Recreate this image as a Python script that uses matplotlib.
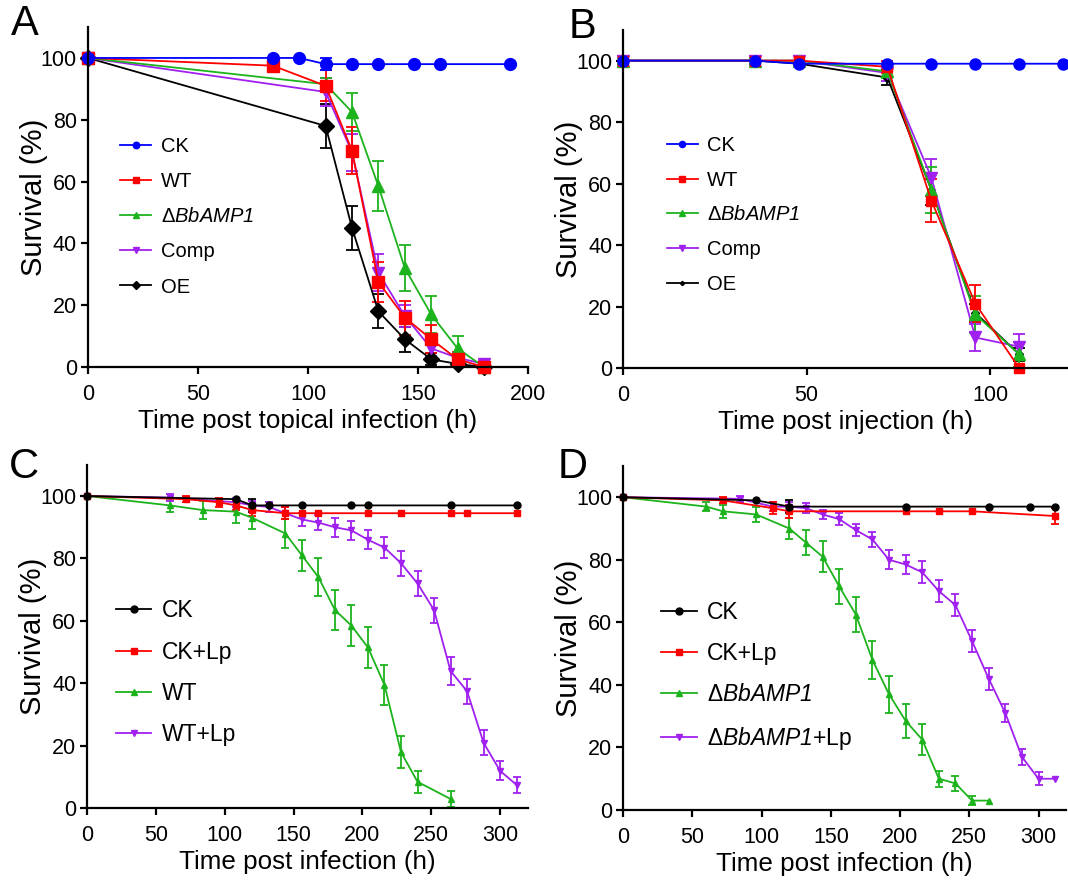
import numpy as np
import matplotlib
matplotlib.use("Agg")
import matplotlib.pyplot as plt

plt.rcParams["font.family"] = ["Liberation Sans", "DejaVu Sans"]
plt.rcParams["mathtext.fontset"] = "custom"
# everything inside $...$ is italic (gene name incl. digits)
plt.rcParams["mathtext.rm"] = "Liberation Sans:italic"
plt.rcParams["mathtext.it"] = "Liberation Sans:italic"

BLUE, RED, GREEN, PURPLE, BLACK = "#0000FF", "#FF0000", "#1DB31D", "#A020F0", "#000000"
DELTA = "Δ$BbAMP1$"

# ---- panel A: topical infection
a_ck_t = [0, 84, 96, 108, 120, 132, 148, 160, 192]
a_ck = [100, 100, 100, 98, 98, 98, 98, 98, 98]
a_ck_err = [0, 0, 0, 2, 0, 0, 0, 0, 0]
a_t = [0, 84, 108, 120, 132, 144, 156, 168, 180]
a_wt = [100, 97.5, 91, 70, 27.5, 16, 9, 2.5, 0]
a_wt_err = [0, 1.5, 5, 7.5, 6.5, 5.5, 4.5, 2.5, 0]
a_t2 = [0, 108, 120, 132, 144, 156, 168, 180]
a_del = [100, 91.5, 82.5, 58.5, 32, 17, 6, 0]
a_del_err = [1.5, 2, 6, 8, 7.5, 6, 4, 0]
a_comp = [100, 89, 69.5, 30.5, 16.5, 6, 3, 1]
a_comp_err = [1.5, 4.5, 6, 6, 3.5, 2.5, 1.5, 1]
a_oe = [100, 78, 45, 18, 9, 2.5, 1, 0]
a_oe_err = [0, 7, 7, 5.5, 4, 2, 0, 0]

# ---- panel B: injection
b_ck_t = [0, 36, 48, 72, 84, 96, 108, 120]
b_ck = [100, 100, 99, 99, 99, 99, 99, 99]
b_t = [0, 36, 48, 72, 84, 96, 108]
b_wt = [100, 100, 100, 98, 54.5, 21, 0]
b_wt_err = [0, 0, 0, 2, 7, 6, 0]
b_del = [100, 100, 100, 96.5, 58, 17.5, 4.5]
b_del_err = [1, 1, 0, 2, 7.5, 6, 4]
b_comp = [100, 100, 100, 96, 62, 10, 7]
b_comp_err = [1.5, 1.5, 1.5, 2.5, 6, 4.5, 4]
b_oe = [100, 100, 99, 94.5, 58, 18, 4.5]
b_oe_err = [0, 0, 0, 2.5, 5, 3, 2]

# ---- panel C: WT with / without Lp
c_ck_t = [0, 108, 120, 132, 156, 192, 204, 264, 312]
c_ck = [100, 99, 97, 97, 97, 97, 97, 97, 97]
c_ck_err = [0, 0, 2, 0, 0, 0, 0, 0, 0]
c_cklp_t = [0, 72, 96, 108, 120, 144, 156, 168, 204, 228, 264, 276, 312]
c_cklp = [100, 99, 98, 97, 95.5, 94.5, 94.5, 94.5, 94.5, 94.5, 94.5, 94.5, 94.5]
c_cklp_err = [0, 1, 1.5, 1.5, 2, 2, 0, 0, 0, 0, 0, 0, 0]
c_wt_t = [0, 60, 84, 108, 120, 144, 156, 168, 180, 192, 204, 216, 228, 240, 264]
c_wt = [100, 97, 95.5, 95, 93, 88, 81, 74, 63.5, 58.5, 51.5, 39.5, 18, 8.5, 3]
c_wt_err = [0, 2, 3, 3.5, 3.5, 4.5, 5, 6, 6.5, 6.5, 6.5, 6.5, 5, 3.5, 2.5]
c_wtlp_t = [0, 60, 108, 120, 132, 144, 156, 168, 180, 192, 204, 216, 228,
            240, 252, 264, 276, 288, 300, 312]
c_wtlp = [100, 99.5, 98, 97, 96.5, 94.5, 92.5, 91.5, 90, 89, 86, 83.5, 78.5,
          72, 63.5, 44, 37.5, 21, 12, 7.5]
c_wtlp_err = [0, 1, 1.5, 1.5, 1.5, 2, 2, 2.5, 3, 3, 3, 3.5, 4,
              4, 4, 4.5, 4, 4, 3, 2.5]

# ---- panel D: deletion mutant with / without Lp
d_ck_t = [0, 96, 120, 204, 264, 294, 312]
d_ck = [100, 99, 97, 97, 97, 97, 97]
d_ck_err = [0, 0, 2, 0, 0, 0, 0]
d_cklp_t = [0, 72, 108, 120, 204, 228, 252, 312]
d_cklp = [100, 99, 96.5, 95.5, 95.5, 95.5, 95.5, 94]
d_cklp_err = [0, 1, 2, 2, 0, 0, 0, 2.5]
d_del_t = [0, 60, 72, 96, 120, 132, 144, 156, 168, 180, 192, 204, 216, 228, 240, 252, 264]
d_del = [100, 97, 95.5, 94.5, 90, 85.5, 81, 71.5, 62.5, 48, 37, 28.5, 22.5, 10, 8.5, 3, 3]
d_del_err = [0, 1.5, 2, 2.5, 3.5, 4, 5, 5.5, 5.5, 6, 6, 5.5, 5, 2.5, 2.5, 1.5, 0]
d_dellp_t = [0, 84, 108, 120, 132, 144, 156, 168, 180, 192, 204, 216, 228,
             240, 252, 264, 276, 288, 300, 312]
d_dellp = [100, 99.5, 97, 97, 96.5, 94.5, 93, 89.5, 86.5, 80, 78.5, 76, 70,
           65.5, 54, 42, 31, 17, 10, 10]
d_dellp_err = [0, 1, 1.5, 1.5, 1.5, 1.5, 2, 2, 2.5, 3, 3, 3.5, 3.5,
               3.5, 3.5, 3.5, 3, 2.5, 2, 0]


def series(ax, t, y, err, color, marker, ms, cap, label):
    err = np.asarray(err, dtype=float)
    err = np.where(err > 0, err, np.nan)
    ax.errorbar(t, y, yerr=err, color=color, marker=marker, ms=ms, lw=1.3,
                elinewidth=1.3, capsize=cap, capthick=1.3, label=label,
                clip_on=False)


def style(ax, xmax, xstep, xlabel, letter, lx, ly):
    ax.set_xlim(0, xmax)
    ax.set_ylim(0, 110)
    ax.set_xticks(np.arange(0, xmax + 1, xstep))
    ax.set_yticks(range(0, 101, 20))
    for s in ["top", "right"]:
        ax.spines[s].set_visible(False)
    for s in ["left", "bottom"]:
        ax.spines[s].set_linewidth(1.6)
    ax.tick_params(direction="out", length=5, width=1.6, labelsize=15.5)
    ax.tick_params(axis="x", pad=7)
    ax.tick_params(axis="y", pad=3)
    ax.set_xlabel(xlabel, fontsize=18.7, labelpad=3)
    ax.set_ylabel("Survival (%)", fontsize=21, labelpad=-5)
    fig.text(lx, 1 - ly / 881, letter, fontsize=30, va="top", ha="left")


fig = plt.figure(figsize=(10.68, 8.81), dpi=100)
axA = fig.add_axes([0.0824, 0.5834, 0.4120, 0.3859])
axB = fig.add_axes([0.5836, 0.5820, 0.4155, 0.3841])
axC = fig.add_axes([0.0817, 0.0825, 0.4123, 0.3899])
axD = fig.add_axes([0.5836, 0.0806, 0.4147, 0.3905])

# A
series(axA, a_t2, a_oe, a_oe_err, BLACK, "D", 8, 4.5, "OE")
series(axA, a_t2, a_comp, a_comp_err, PURPLE, "v", 9, 4.5, "Comp")
series(axA, a_t2, a_del, a_del_err, GREEN, "^", 9, 4.5, DELTA)
series(axA, a_t, a_wt, a_wt_err, RED, "s", 8, 4.5, "WT")
series(axA, a_ck_t, a_ck, a_ck_err, BLUE, "o", 8.5, 4.5, "CK")
style(axA, 200, 50, "Time post topical infection (h)", "A", 0.010, 4)

# B
series(axB, b_t, b_oe, b_oe_err, BLACK, "D", 4, 4.5, "OE")
series(axB, b_t, b_comp, b_comp_err, PURPLE, "v", 9, 4.5, "Comp")
series(axB, b_t, b_del, b_del_err, GREEN, "^", 8, 4.5, DELTA)
series(axB, b_t, b_wt, b_wt_err, RED, "s", 7.5, 4.5, "WT")
series(axB, b_ck_t, b_ck, [0] * len(b_ck), BLUE, "o", 8, 4.5, "CK")
style(axB, 121, 50, "Time post injection (h)", "B", 0.532, 7)

# C
series(axC, c_wtlp_t, c_wtlp, c_wtlp_err, PURPLE, "v", 5, 3, "WT+Lp")
series(axC, c_wt_t, c_wt, c_wt_err, GREEN, "^", 5, 3, "WT")
series(axC, c_cklp_t, c_cklp, c_cklp_err, RED, "s", 5, 3, "CK+Lp")
series(axC, c_ck_t, c_ck, c_ck_err, BLACK, "o", 5, 3, "CK")
style(axC, 320, 50, "Time post infection (h)", "C", 0.008, 447)

# D
series(axD, d_dellp_t, d_dellp, d_dellp_err, PURPLE, "v", 5, 3, DELTA + "+Lp")
series(axD, d_del_t, d_del, d_del_err, GREEN, "^", 5, 3, DELTA)
series(axD, d_cklp_t, d_cklp, d_cklp_err, RED, "s", 5, 3, "CK+Lp")
series(axD, d_ck_t, d_ck, d_ck_err, BLACK, "o", 5, 3, "CK")
style(axD, 320, 50, "Time post infection (h)", "D", 0.522, 447)

for ax, anchor, fs, spacing, mscale in [(axA, (0.055, 0.70), 14.5, 0.80, 0.55),
                                        (axB, (0.08, 0.71), 14.5, 0.78, 0.55),
                                        (axC, (0.044, 0.635), 16.5, 0.8, 1.0),
                                        (axD, (0.065, 0.635), 16.5, 0.8, 1.0)]:
    h, l = ax.get_legend_handles_labels()
    h = [c[0] for c in h]
    ax.legend(h[::-1], l[::-1], loc="upper left", bbox_to_anchor=anchor,
              frameon=False, fontsize=fs, handlelength=1.55, handletextpad=0.45,
              labelspacing=spacing, markerscale=mscale, borderaxespad=0)

fig.savefig("out.png", dpi=100)
